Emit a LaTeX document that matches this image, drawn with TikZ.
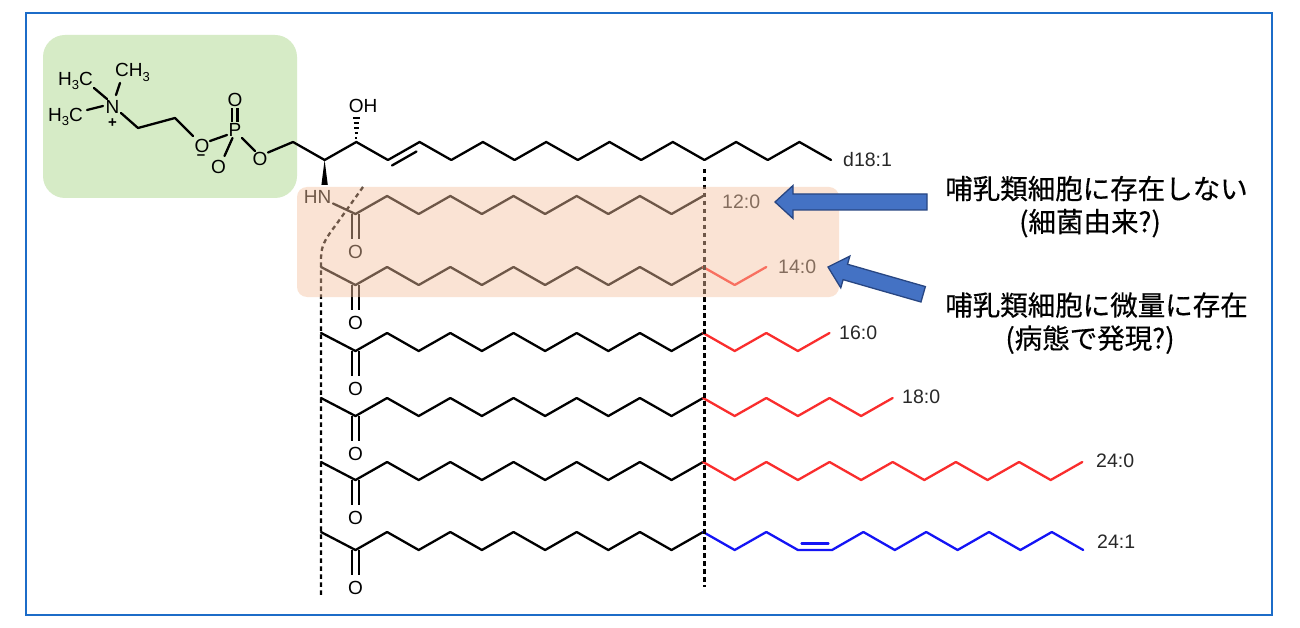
\documentclass[tikz,border=0pt]{standalone}
\usepackage{fontspec}
\setmainfont{Liberation Sans}
\newfontfamily\cjk[FakeBold=0.4]{Noto Sans CJK JP}
\definecolor{frameblue}{RGB}{28,108,200}
\definecolor{greenbox}{RGB}{214,235,198}
\definecolor{peach}{RGB}{246,195,160}
\definecolor{chred}{RGB}{250,45,45}
\definecolor{chblue}{RGB}{20,20,245}
\definecolor{arrowfill}{RGB}{68,114,196}
\definecolor{arrowline}{RGB}{40,70,130}
\definecolor{labelgray}{RGB}{40,40,40}
\newcommand\lowsub[1]{\raisebox{-0.22em}{\fontsize{13}{13}\selectfont #1}}
% acyl row: #1 = upper level y, #2 = name suffix
\newcommand\acylstem[2]{%
  \draw[bond] (321,#1) \foreach \k in {0,...,11}{ -- ({355.5+31.6*\k},{#1+18*(1-mod(\k,2))}) };
  \draw[dbl] (352.2,{#1+18}) -- ++(0,25);
  \draw[dbl] (358.8,{#1+18}) -- ++(0,25);
  \node[atom] (o#2) at (355.5,{#1+55.5}) {O};
}
\newcommand\acyltail[3]{% #1 U, #2 colour, #3 last index
  \draw[bond,#2] (703.1,#1) \foreach \k in {12,...,#3}{ -- ({355.5+31.6*\k},{#1+18*(1-mod(\k,2))}) };
}
\begin{document}
\begin{tikzpicture}[x=1pt,y=-1pt,
  bond/.style={line width=2.3pt,line cap=round,line join=round},
  dbl/.style={line width=2.1pt,line cap=butt},
  atom/.style={inner sep=0pt,font=\fontsize{19}{20}\selectfont},
  chglbl/.style={inner sep=0pt,font=\fontsize{19.5}{20}\selectfont,anchor=west,text=labelgray},
  dashln/.style={line width=2.3pt,dash pattern=on 4.5pt off 3.5pt},
  jp/.style={inner sep=0pt,anchor=base,font=\cjk\fontsize{27.5}{33}\selectfont,text=black},
  blockarrow/.style={fill=arrowfill,draw=arrowline,line width=1.3pt,line join=miter}
]
\useasboundingbox (0,0) rectangle (1300,628);
\fill[white] (0,0) rectangle (1300,628);

% head-group background
\fill[greenbox,rounded corners=22pt] (43,35) rectangle (297,198);
% outer frame
\draw[frameblue,line width=2.4pt] (26,13) rectangle (1272,615);

% ---------- head group ----------
\node[atom,anchor=base] (me1) at (75.5,85.6) {H\lowsub{3}C};
\node[atom,anchor=base] (me2) at (132.5,77) {CH\lowsub{3}};
\node[atom,anchor=base] (me3) at (65.5,121.6) {H\lowsub{3}C};
\node[atom] (n) at (112.5,107) {N};
\node[inner sep=0pt,font=\fontsize{15}{15}\selectfont\bfseries] (plus) at (112.5,123) {+};
\node[atom] (o1) at (202,146) {O};
\node[atom] (p) at (235,130) {P};
\node[atom] (o2) at (235,100) {O};
\node[atom] (o3) at (218.5,167) {O};
\node[inner sep=0pt,font=\fontsize{15}{15}\selectfont\bfseries] (minus) at (201,157.5) {–};
\node[atom] (o4) at (260,159) {O};

\draw[bond] (94,88) -- (107,99);
\draw[bond] (120,83) -- (116,95);
\draw[bond] (87,110) -- (103,106);
\draw[bond] (121,113) -- (138,128) -- (175,118) -- (193,136);
\draw[bond] (210,141) -- (227,135);
\draw[dbl] (232,122) -- (232,108);
\draw[dbl] (237.5,122) -- (237.5,108);
\draw[bond] (232.5,138) -- (224.5,156);
\draw[bond] (242,138) -- (255,151);
\draw[bond] (268,152.5) -- (293,142);

% ---------- sphingoid base ----------
\draw[bond] (293,142) \foreach \k in {1,...,17}{ -- ({293+31.65*\k},{142+18*mod(\k,2)}) };
\draw[bond] (392,165.5) -- (416.5,151.5);
\node[chglbl] (d181) at (843,160) {d18:1};
% OH hashed wedge
\node[atom] (oh) at (363,106) {OH};
\foreach \yy/\w in {138/1.0,133/1.6,128/2.2,123/2.8,118/3.4}
  \draw[line width=1.7pt] ({356.3-\w},\yy) -- ({356.3+\w},\yy);
% NH solid wedge
\fill (324.6,160) -- (327.8,185) -- (321.4,185) -- cycle;
\node[atom] (hn) at (317.5,197) {HN};

% ---------- acyl chains ----------
% 12:0
\draw[bond] (333,203.5) \foreach \k in {0,...,11}{ -- ({355.5+31.6*\k},{196+18*(1-mod(\k,2))}) };
\draw[dbl] (352.2,214) -- ++(0,25);
\draw[dbl] (358.8,214) -- ++(0,25);
\node[atom] (oa) at (355.5,251.5) {O};
\node[chglbl] (l12) at (722,202) {12:0};
% 14:0
\acylstem{267}{b}
\acyltail{267}{chred}{13}
\node[chglbl] (l14) at (778,267) {14:0};
% 16:0
\acylstem{333}{c}
\acyltail{333}{chred}{15}
\node[chglbl] (l16) at (839,333) {16:0};
% 18:0
\acylstem{398}{d}
\acyltail{398}{chred}{17}
\node[chglbl] (l18) at (902,397) {18:0};
% 24:0
\acylstem{462}{e}
\acyltail{462}{chred}{23}
\node[chglbl] (l240) at (1096,461) {24:0};
% 24:1
\acylstem{532}{f}
\draw[bond,chblue] (703.1,532) -- (734.7,550) -- (766.3,532) -- (797.9,550) -- (832,550)
  \foreach \j in {1,...,8}{ -- ({832+31.4*\j},{532+18*mod(\j+1,2)}) };
\draw[bond,chblue] (801.5,543.5) -- (828.5,543.5);
\node[chglbl] (l241) at (1097,542) {24:1};

% dashed guide lines
\draw[dashln] (704.5,169) -- (704.5,587);
\draw[dashln] (363,187) -- (338,222) .. controls (327,237) and (321,244) .. (321,258) -- (321,598);

% translucent highlight of the unusual chains
\fill[peach,fill opacity=0.45,rounded corners=10pt] (297,187) rectangle (839,297);

% ---------- block arrows ----------
\draw[blockarrow] (775,202) -- (793,185.5) -- (793,194) -- (927,194) -- (927,210) -- (793,210) -- (793,218.5) -- cycle;
\begin{scope}[shift={(828,267)},rotate=-16]
  \draw[blockarrow] (0,0) -- (18,-16.5) -- (18,-8) -- (99,-8) -- (99,8) -- (18,8) -- (18,16.5) -- cycle;
\end{scope}

% ---------- notes ----------
\node[jp] (t1) at (1096.5,199) {哺乳類細胞に存在しない};
\node[jp] (t2) at (1090,232) {(細菌由来?)};
\node[jp] (t3) at (1096.5,315.5) {哺乳類細胞に微量に存在};
\node[jp] (t4) at (1090,348.5) {(病態で発現?)};
\end{tikzpicture}
\end{document}
